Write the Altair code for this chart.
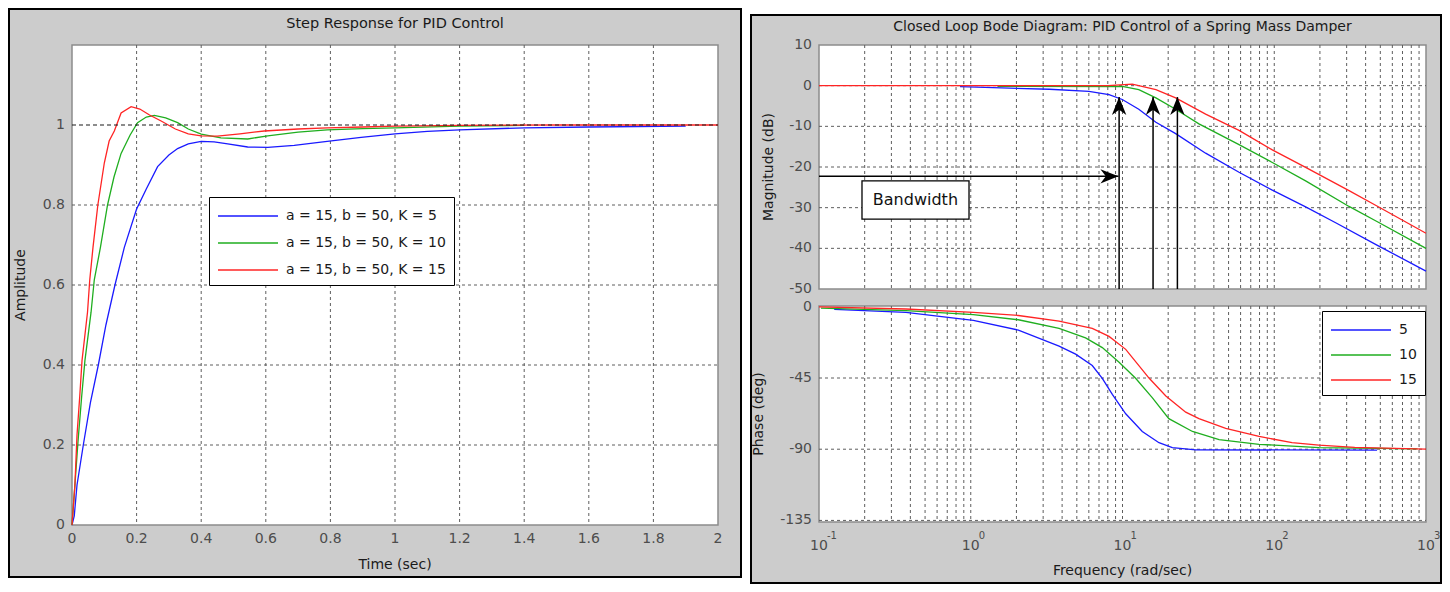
import altair as alt
import pandas as pd

# ---------------- data ----------------
# Step response (time in s, amplitude)
t_k5 = [0, 0.007, 0.0155, 0.035, 0.057, 0.0815, 0.105, 0.133, 0.162, 0.2, 0.23, 0.265, 0.3, 0.327,
        0.36, 0.4, 0.44, 0.482, 0.544, 0.606, 0.688, 0.79, 0.895, 1.0, 1.1, 1.2, 1.4, 1.6, 1.9]
a_k5 = [0, 0.023, 0.1, 0.2, 0.306, 0.4, 0.5, 0.6, 0.694, 0.79, 0.84, 0.896, 0.925, 0.941,
        0.953, 0.959, 0.958, 0.953, 0.945, 0.944, 0.949, 0.959, 0.969, 0.978, 0.984, 0.988, 0.993, 0.995, 0.997]
t_k10 = [0, 0.009, 0.0186, 0.03, 0.04, 0.059, 0.069, 0.088, 0.11, 0.13, 0.152, 0.18, 0.203, 0.23,
         0.255, 0.29, 0.327, 0.36, 0.4, 0.461, 0.544, 0.606, 0.7, 0.79, 0.9, 1.0, 1.2, 1.4]
a_k10 = [0, 0.1, 0.209, 0.322, 0.411, 0.532, 0.613, 0.694, 0.8, 0.87, 0.929, 0.975, 1.006, 1.02,
         1.024, 1.018, 1.006, 0.99, 0.977, 0.968, 0.965, 0.973, 0.982, 0.988, 0.991, 0.993, 0.997, 0.999]
t_k15 = [0, 0.009, 0.0155, 0.024, 0.031, 0.048, 0.055, 0.065, 0.08, 0.1, 0.115, 0.131, 0.152, 0.183,
         0.21, 0.24, 0.276, 0.32, 0.36, 0.4, 0.45, 0.52, 0.595, 0.7, 0.79, 0.9, 1.0, 1.2, 1.5, 2.0]
a_k15 = [0, 0.1, 0.225, 0.322, 0.411, 0.532, 0.613, 0.694, 0.8, 0.905, 0.96, 0.985, 1.03, 1.046,
         1.04, 1.025, 1.01, 0.99, 0.978, 0.973, 0.972, 0.978, 0.985, 0.99, 0.993, 0.995, 0.997, 0.999, 1.0, 1.0]

# Bode magnitude (rad/s, dB)
fm_k5 = [0.85, 3.3, 6.01, 8.15, 9.97, 12.8, 16.6, 22.4, 35.3, 58.6, 97.1, 161, 254, 475, 1000]
db_k5 = [-0.25, -0.88, -1.4, -2.2, -3.4, -5.8, -9.0, -11.8, -16.6, -21.3, -25.7, -29.8, -33.7, -39.2, -45.6]
fm_k10 = [1.5, 9.97, 12.8, 16.6, 22.4, 31.9, 58.6, 97.1, 161, 311, 475, 1000]
db_k10 = [-0.15, -0.2, -1.0, -3.0, -5.8, -9.4, -14.5, -18.9, -23.4, -29.7, -33.4, -40.0]
fm_k15 = [0.1, 8.0, 11.6, 16.6, 22.4, 35.3, 58.6, 97.1, 161, 311, 475, 1000]
db_k15 = [0, 0, 0.4, -1.0, -3.0, -7.0, -11.0, -15.8, -20.1, -25.8, -29.6, -36.3]

# Bode phase (rad/s, deg)
fp_k5 = [0.126, 0.374, 1.04, 2.06, 3.82, 4.91, 6.32, 7.36, 8.57, 10.5, 13.5, 17.4, 21.3, 30.3, 476]
ph_k5 = [-1.6, -3.5, -8.6, -14.7, -24.9, -29.9, -37.1, -45.2, -55.4, -67.6, -78.8, -85.9, -89.0, -90.4, -90.6]
fp_k10 = [0.103, 0.374, 1.04, 2.06, 3.82, 5.71, 7.36, 9.49, 12.2, 15.7, 20.2, 28.9, 43.3, 79.4, 197, 879]
ph_k10 = [-0.8, -2.4, -4.9, -8.2, -13.6, -19.7, -25.8, -35.0, -45.2, -57.4, -70.7, -78.8, -83.9, -86.9, -89.0, -89.8]
fp_k15 = [0.1, 0.374, 1.04, 2.06, 3.82, 6.32, 8.15, 10.5, 15.0, 19.3, 26.1, 31.9, 47.9, 79.4, 131, 197, 339, 1000]
ph_k15 = [0, -1.4, -3.5, -5.5, -9.0, -13.6, -18.7, -26.9, -45.2, -56.4, -66.6, -70.7, -76.8, -81.9, -85.9, -87.4, -88.8, -90.0]

step_labels = ["a = 15, b = 50, K = 5", "a = 15, b = 50, K = 10", "a = 15, b = 50, K = 15"]
bode_labels = ["5", "10", "15"]
series_colors = ["#1a1aff", "#1fae1f", "#ff2424"]

# ticks / grid values and tick labels
t_ticks = [0, 0.2, 0.4, 0.6, 0.8, 1, 1.2, 1.4, 1.6, 1.8, 2]
t_tick_labels = ["0", "0.2", "0.4", "0.6", "0.8", "1", "1.2", "1.4", "1.6", "1.8", "2"]
a_ticks = [0, 0.2, 0.4, 0.6, 0.8, 1]
a_tick_labels = ["0", "0.2", "0.4", "0.6", "0.8", "1"]
t_grid = [0.2, 0.4, 0.6, 0.8, 1, 1.2, 1.4, 1.6, 1.8]
a_grid = [0.2, 0.4, 0.6, 0.8]
mag_ticks = [10, 0, -10, -20, -30, -40, -50]
mag_tick_labels = ["10", "0", "-10", "-20", "-30", "-40", "-50"]
mag_grid = [0, -10, -20, -30, -40]
ph_ticks = [0, -45, -90, -135]
ph_tick_labels = ["0", "-45", "-90", "-135"]
ph_grid = [-45, -90, -135]
f_grid = [0.2, 0.3, 0.4, 0.5, 0.6, 0.7, 0.8, 0.9, 1, 2, 3, 4, 5, 6, 7, 8, 9, 10,
          20, 30, 40, 50, 60, 70, 80, 90, 100, 200, 300, 400, 500, 600, 700, 800, 900]
f_decades = [0.1, 1, 10, 100, 1000]
f_exps = ["-1", "0", "1", "2", "3"]

# annotations (data units)
bw_freqs = [9.5, 15.9, 23.0]
bw_tips = [-2.8, -2.8, -2.8]
bw_arrow_f = [0.1, 9.4]
bw_arrow_db = [-22.3]
bw_box_f = [0.192, 0.974]
bw_box_db = [-23.4, -32.8]

# ---------------- styling ----------------
FONT = "DejaVu Sans"
GRID = "#5e5e5e"
BG = "#cccccc"
TICK_C = "#4d4d4d"
TXT_C = "#1a1a1a"
LINE_SYM = "M-3,0L3,0"
one = alt.Data(values=[{}])


def long(ts, vs, lab, xn, yn):
    return pd.DataFrame({xn: ts, yn: vs, "s": lab})


step_df = pd.concat([long(t_k5, a_k5, step_labels[0], "t", "A"),
                     long(t_k10, a_k10, step_labels[1], "t", "A"),
                     long(t_k15, a_k15, step_labels[2], "t", "A")])
mag_df = pd.concat([long(fm_k5, db_k5, bode_labels[0], "f", "v"),
                    long(fm_k10, db_k10, bode_labels[1], "f", "v"),
                    long(fm_k15, db_k15, bode_labels[2], "f", "v")])
ph_df = pd.concat([long(fp_k5, ph_k5, bode_labels[0], "f", "v"),
                   long(fp_k10, ph_k10, bode_labels[1], "f", "v"),
                   long(fp_k15, ph_k15, bode_labels[2], "f", "v")])


def legend(x, y, pad, rowpad):
    return alt.Legend(orient="none", legendX=x, legendY=y, title=None, fillColor="white",
                      strokeColor="black", padding=pad, symbolType=LINE_SYM, symbolSize=400,
                      symbolOffset=20, symbolStrokeWidth=1.6, labelFont=FONT, labelFontSize=14,
                      labelColor=TXT_C, labelOffset=27, rowPadding=rowpad, zindex=2)


def text_at(txt, x, y, size=14, angle=0, color=TXT_C):
    return alt.Chart(one).mark_text(text=txt, font=FONT, fontSize=size, color=color,
                                    angle=angle).encode(x=alt.value(x), y=alt.value(y))


def rule_grid(df, **enc):
    return alt.Chart(df).mark_rule(color=GRID, strokeDash=[3, 3], strokeWidth=1).encode(**enc)


# ---------------- left: step response ----------------
W_L, H_L = 646, 480
t_scale = alt.Scale(domain=[0, 2], nice=False)
a_scale = alt.Scale(domain=[0, 1.2], nice=False, zero=False)

l_bg = alt.Chart(one).mark_rect(fill=BG, stroke="black", strokeWidth=2).encode(
    x=alt.value(-63), x2=alt.value(669), y=alt.value(-36), y2=alt.value(532))
l_plot = alt.Chart(one).mark_rect(fill="white", stroke="#8c8c8c", strokeWidth=1.5).encode(
    x=alt.value(0), x2=alt.value(W_L), y=alt.value(0), y2=alt.value(H_L))
l_vgrid = rule_grid(pd.DataFrame({"t": t_grid}),
                    x=alt.X("t:Q", scale=t_scale, axis=None), y=alt.value(0), y2=alt.value(H_L))
l_hgrid = rule_grid(pd.DataFrame({"A": a_grid}),
                    y=alt.Y("A:Q", scale=a_scale, axis=None), x=alt.value(0), x2=alt.value(W_L))
l_lines = alt.Chart(step_df).mark_line(strokeWidth=1.3).encode(
    x=alt.X("t:Q", scale=t_scale, axis=None),
    y=alt.Y("A:Q", scale=a_scale, axis=None),
    color=alt.Color("s:N", scale=alt.Scale(domain=step_labels, range=series_colors),
                    legend=legend(137, 152, 8, 9)))
l_ref = alt.Chart(pd.DataFrame({"A": [1.0]})).mark_rule(
    color=TXT_C, strokeDash=[4, 3], strokeWidth=1.2).encode(
    y=alt.Y("A:Q", scale=a_scale, axis=None), x=alt.value(0), x2=alt.value(W_L))
l_xlab = alt.Chart(pd.DataFrame({"t": t_ticks, "lab": t_tick_labels})).mark_text(
    font=FONT, fontSize=14, color=TICK_C).encode(
    x=alt.X("t:Q", scale=t_scale, axis=None), y=alt.value(H_L + 14), text="lab:N")
l_ylab = alt.Chart(pd.DataFrame({"A": a_ticks, "lab": a_tick_labels})).mark_text(
    font=FONT, fontSize=14, color=TICK_C, align="right").encode(
    y=alt.Y("A:Q", scale=a_scale, axis=None), x=alt.value(-7), text="lab:N")
l_title = text_at("Step Response for PID Control", W_L / 2, -21, size=14.5)
l_xtitle = text_at("Time (sec)", W_L / 2, H_L + 40)
l_ytitle = text_at("Amplitude", -51, H_L / 2, angle=270)

left = alt.layer(l_bg, l_plot, l_vgrid, l_hgrid, l_lines, l_ref, l_xlab, l_ylab,
                 l_title, l_xtitle, l_ytitle).properties(width=W_L, height=H_L)

# ---------------- right: Bode diagram ----------------
W_R, H_R, MAG_H, PH_TOP = 607, 477, 244, 261
f_scale = alt.Scale(type="log", domain=[0.1, 1000], nice=False)
mag_scale = alt.Scale(domain=[-50, 10], range=[MAG_H, 0], nice=False, zero=False)
ph_scale = alt.Scale(domain=[-136, 0.5], range=[H_R, PH_TOP], nice=False, zero=False)
bode_color = alt.Color("s:N", scale=alt.Scale(domain=bode_labels, range=series_colors),
                       legend=legend(503, PH_TOP + 5, 8, 7))
fx = alt.X("f:Q", scale=f_scale, axis=None)

r_bg = alt.Chart(one).mark_rect(fill=BG, stroke="black", strokeWidth=2).encode(
    x=alt.value(-68), x2=alt.value(622), y=alt.value(-30), y2=alt.value(538))
r_mag_plot = alt.Chart(one).mark_rect(fill="white", stroke="#8c8c8c", strokeWidth=1.5).encode(
    x=alt.value(0), x2=alt.value(W_R), y=alt.value(0), y2=alt.value(MAG_H))
r_ph_plot = alt.Chart(one).mark_rect(fill="white", stroke="#8c8c8c", strokeWidth=1.5).encode(
    x=alt.value(0), x2=alt.value(W_R), y=alt.value(PH_TOP), y2=alt.value(H_R))

fgrid_df = pd.DataFrame({"f": f_grid})
m_vgrid = rule_grid(fgrid_df, x=fx, y=alt.value(0), y2=alt.value(MAG_H))
m_hgrid = rule_grid(pd.DataFrame({"v": mag_grid}),
                    y=alt.Y("v:Q", scale=mag_scale, axis=None), x=alt.value(0), x2=alt.value(W_R))
m_lines = alt.Chart(mag_df).mark_line(strokeWidth=1.3).encode(
    x=fx, y=alt.Y("v:Q", scale=mag_scale, axis=None), color=bode_color)
m_ylab = alt.Chart(pd.DataFrame({"v": mag_ticks, "lab": mag_tick_labels})).mark_text(
    font=FONT, fontSize=14, color=TICK_C, align="right").encode(
    y=alt.Y("v:Q", scale=mag_scale, axis=None), x=alt.value(-7), text="lab:N")
arrow_v_df = pd.DataFrame({"f": bw_freqs, "tip": bw_tips, "base": [-50] * 3})
m_arrow_v = alt.Chart(arrow_v_df).mark_rule(color="black", strokeWidth=1.5).encode(
    x=fx, y=alt.Y("tip:Q", scale=mag_scale, axis=None), y2="base:Q")
m_arrow_h = alt.Chart(pd.DataFrame({"f": [bw_arrow_f[0]], "f2": [bw_arrow_f[1]], "v": bw_arrow_db})
                      ).mark_rule(color="black", strokeWidth=1.5).encode(
    x=fx, x2="f2:Q", y=alt.Y("v:Q", scale=mag_scale, axis=None))
HEAD = "M0,0 L0.8,2 L0,1.4 L-0.8,2 Z"
m_heads_v = alt.Chart(arrow_v_df).mark_point(shape=HEAD, filled=True, color="black",
                                             opacity=1, size=324).encode(
    x=fx, y=alt.Y("tip:Q", scale=mag_scale, axis=None))
m_head_h = alt.Chart(pd.DataFrame({"f": [bw_arrow_f[1]], "v": bw_arrow_db})).mark_point(
    shape=HEAD, filled=True, color="black", opacity=1, size=324, angle=90).encode(
    x=fx, y=alt.Y("v:Q", scale=mag_scale, axis=None))
m_box = alt.Chart(pd.DataFrame({"f": [bw_box_f[0]], "f2": [bw_box_f[1]],
                                "v": [bw_box_db[0]], "v2": [bw_box_db[1]]})).mark_rect(
    fill="white", stroke="black", strokeWidth=1.3).encode(
    x=fx, x2="f2:Q", y=alt.Y("v:Q", scale=mag_scale, axis=None), y2="v2:Q")
m_box_text = alt.Chart(pd.DataFrame({"f": [0.432], "v": [-28.1], "txt": ["Bandwidth"]})).mark_text(
    font=FONT, fontSize=16, color="#111111").encode(
    x=fx, y=alt.Y("v:Q", scale=mag_scale, axis=None), text="txt:N")

mag_group = alt.layer(m_vgrid, m_hgrid, m_lines, m_arrow_v, m_arrow_h, m_heads_v, m_head_h,
                      m_box, m_box_text, m_ylab)

p_vgrid = rule_grid(fgrid_df, x=fx, y=alt.value(PH_TOP), y2=alt.value(H_R))
p_hgrid = rule_grid(pd.DataFrame({"v": ph_grid}),
                    y=alt.Y("v:Q", scale=ph_scale, axis=None), x=alt.value(0), x2=alt.value(W_R))
p_lines = alt.Chart(ph_df).mark_line(strokeWidth=1.3).encode(
    x=fx, y=alt.Y("v:Q", scale=ph_scale, axis=None), color=bode_color)
p_ylab = alt.Chart(pd.DataFrame({"v": ph_ticks, "lab": ph_tick_labels})).mark_text(
    font=FONT, fontSize=14, color=TICK_C, align="right").encode(
    y=alt.Y("v:Q", scale=ph_scale, axis=None), x=alt.value(-7), text="lab:N")
ph_group = alt.layer(p_vgrid, p_hgrid, p_lines, p_ylab)

dec_df = pd.DataFrame({"f": f_decades, "e": f_exps, "b": ["10"] * 5})
r_dec = alt.Chart(dec_df).mark_text(font=FONT, fontSize=14, color=TICK_C).encode(
    x=fx, y=alt.value(H_R + 24), text="b:N")
r_exp = alt.Chart(dec_df).mark_text(font=FONT, fontSize=10, color=TICK_C, align="left",
                                    dx=8).encode(x=fx, y=alt.value(H_R + 14), text="e:N")
r_xtitle = text_at("Frequency  (rad/sec)", W_R / 2, H_R + 49)
r_title = text_at("Closed Loop Bode Diagram: PID Control of a Spring Mass Damper", W_R / 2, -18)
r_ytitle_m = text_at("Magnitude (dB)", -50, MAG_H / 2, angle=270)
r_ytitle_p = text_at("Phase (deg)", -60, (PH_TOP + H_R) / 2, angle=270)

right = alt.layer(r_bg, r_mag_plot, r_ph_plot, mag_group, ph_group, r_dec, r_exp, r_xtitle,
                  r_title, r_ytitle_m, r_ytitle_p).resolve_scale(y="independent").properties(
    width=W_R, height=H_R)

chart = alt.hconcat(left, right, spacing=8).resolve_scale(color="independent").resolve_legend(
    color="independent").properties(padding=0).configure_view(strokeWidth=0)

chart.save("out.html", embed_options={"renderer": "svg", "actions": False})
